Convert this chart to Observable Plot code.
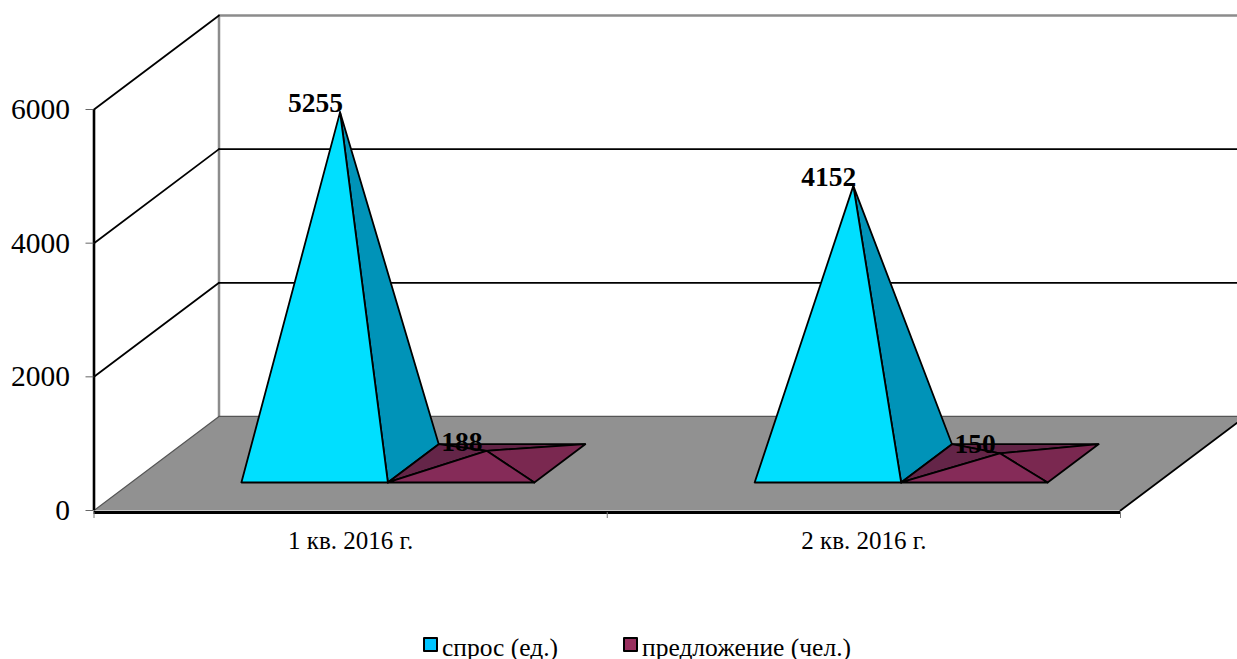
<!DOCTYPE html>
<html><head><meta charset="utf-8">
<script src="https://cdn.jsdelivr.net/npm/d3@7"></script>
<script src="https://cdn.jsdelivr.net/npm/@observablehq/plot@0.6"></script>
<style>
html,body{margin:0;padding:0;background:#fff;overflow:hidden}
#legend{position:relative;height:34px;font:25.5px "Liberation Serif",serif;color:#000}
#legend span{position:absolute;top:8px;white-space:nowrap}
#legend i{position:absolute;top:12px;width:11px;height:11px;border:2px solid #000;border-radius:1px}
</style></head><body><div id="chart"></div><div id="legend"></div>
<script>
const categories = ["1 кв. 2016 г.", "2 кв. 2016 г."];
const demand = [5255, 4152];
const supply = [188, 150];
const yTicks = [0, 2000, 4000, 6000];
const seriesNames = ["спрос (ед.)", "предложение (чел.)"];

// oblique projection: one unit of depth expressed in the units of both scales
const depthX = 125 / 513.25, depthY = 1407;
const project = (x, depth, value) => ({x: x + depth * depthX, y: value + depth * depthY});
const path = (id, fill, corners) => corners.map(c => ({id, fill, ...project(...c)}));

const front = 0.298, back = 0.705, mid = (front + back) / 2, barW = 0.2854;
const faces = [];
categories.forEach((c, i) => {
  const l = i + 0.5 - barW, m = i + 0.5, r = i + 0.5 + barW;
  const a = [(l + m) / 2, mid, demand[i]], b = [(m + r) / 2, mid, supply[i]];
  faces.push(...path(`d${i}s`, "#0093b8", [[m, front, 0], [m, back, 0], a]));
  faces.push(...path(`d${i}f`, "#00dfff", [[l, front, 0], [m, front, 0], a]));
  faces.push(...path(`s${i}b`, "#622446", [[m, back, 0], [r, back, 0], b]));
  faces.push(...path(`s${i}l`, "#642548", [[m, front, 0], [m, back, 0], b]));
  faces.push(...path(`s${i}r`, "#7a2850", [[r, front, 0], [r, back, 0], b]));
  faces.push(...path(`s${i}f`, "#852b58", [[m, front, 0], [r, front, 0], b]));
});
const apexD = demand.map((v, i) => ({...project(i + 0.5 - barW / 2, mid, v), t: String(v)}));
const apexS = supply.map((v, i) => ({...project(i + 0.5 + barW / 2, mid, v), t: String(v)}));

const floor = path("floor", "#919191", [[0, 0, 0], [2, 0, 0], [2, 1, 0], [0, 1, 0]]);
const slants = yTicks.flatMap(v => path(`sl${v}`, "none", [[0, 0, v], [0, 1, v]]));
const backGrid = yTicks.slice(1, 3).flatMap(v => path(`bg${v}`, "none", [[0, 1, v], [2, 1, v]]));
const wall = [...path("w", "none", [[0, 1, 0], [0, 1, 6000], [2, 1, 6000]])];
const rightEdge = path("re", "none", [[2, 0, 0], [2, 1, 0]]);
const backEdge = path("be", "none", [[0, 1, 0], [2, 1, 0]]);
const text = {fontFamily: "Liberation Serif", fill: "#000"};

const plot = Plot.plot({
  width: 1237, height: 625,
  marginLeft: 93.5, marginRight: 117, marginTop: 14, marginBottom: 113,
  x: {domain: [0, 2], range: [93.5, 1120]},
  y: {domain: [0, 6000], range: [510, 109]},
  color: {type: "identity"},
  style: {background: "#fff", fontFamily: "Liberation Serif"},
  marks: [
    Plot.line(wall, {x: "x", y: "y", stroke: "#8c8c8c", strokeWidth: 2.5}),
    Plot.line(backGrid, {x: "x", y: "y", z: "id", stroke: "#000", strokeWidth: 1.8}),
    Plot.line(slants.filter(d => !d.id.endsWith("l0")), {x: "x", y: "y", z: "id", stroke: "#000", strokeWidth: 1.8}),
    Plot.line(floor, {x: "x", y: "y", z: "id", fill: "fill", stroke: "none", curve: "linear-closed"}),
    Plot.line(backEdge, {x: "x", y: "y", z: "id", stroke: "#555", strokeWidth: 1.2}),
    Plot.line(rightEdge, {x: "x", y: "y", z: "id", stroke: "#000", strokeWidth: 1.8}),
    Plot.line(slants.filter(d => d.id.endsWith("l0")), {x: "x", y: "y", z: "id", stroke: "#555", strokeWidth: 1.2}),
    Plot.line(faces, {x: "x", y: "y", z: "id", fill: "fill", stroke: "#000", strokeWidth: 1.8, curve: "linear-closed"}),
    Plot.ruleX([0], {y1: 0, y2: 6000, stroke: "#000", strokeWidth: 2.6}),
    Plot.ruleY([0], {x1: 0, x2: 2, dy: 2, stroke: "#000", strokeWidth: 3}),
    Plot.axisY({ticks: yTicks, tickSize: 8, tickPadding: 16, fontSize: 29.5, label: null, stroke: "#666", tickFormat: d => String(d), ...text}),
    Plot.axisX({ticks: [0, 1, 2], tickSize: 6, tickFormat: () => "", label: null, stroke: "#777"}),
    Plot.axisX({ticks: [0.5, 1.5], tickSize: 0, tickPadding: 19, fontSize: 25, label: null,
      tickFormat: d => categories[Math.floor(d)], ...text}),
    Plot.text(apexD, {x: "x", y: "y", text: "t", textAnchor: "end", lineAnchor: "bottom", dx: 3, dy: 0, fontSize: 27.5, fontWeight: "bold", ...text}),
    Plot.text(apexS, {x: "x", y: "y", text: "t", textAnchor: "end", lineAnchor: "bottom", dx: -4, dy: 0, fontSize: 27.5, fontWeight: "bold", ...text})
  ]
});
document.getElementById("chart").append(plot);
plot.style.display = "block";

const legend = document.getElementById("legend");
[["#00c4ff", 423, 442], ["#99305f", 623, 642]].forEach(([c, a, b], i) => {
  legend.insertAdjacentHTML("beforeend", `<i style="left:${a}px;background:${c}"></i><span style="left:${b}px">${seriesNames[i]}</span>`);
});
</script></body></html>
